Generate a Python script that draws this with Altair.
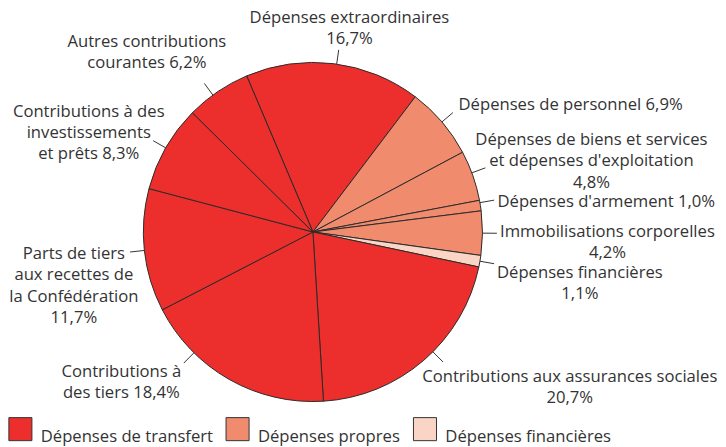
import math
import altair as alt
import pandas as pd

# ---------------- data ----------------
categories = [
    "Dépenses extraordinaires",
    "Dépenses de personnel",
    "Dépenses de biens et services et dépenses d'exploitation",
    "Dépenses d'armement",
    "Immobilisations corporelles",
    "Dépenses financières",
    "Contributions aux assurances sociales",
    "Contributions à des tiers",
    "Parts de tiers aux recettes de la Confédération",
    "Contributions à des investissements et prêts",
    "Autres contributions courantes",
]
shares = [16.7, 6.9, 4.8, 1.0, 4.2, 1.1, 20.7, 18.4, 11.7, 8.3, 6.2]
groups = [
    "Dépenses de transfert",
    "Dépenses propres",
    "Dépenses propres",
    "Dépenses propres",
    "Dépenses propres",
    "Dépenses financières",
    "Dépenses de transfert",
    "Dépenses de transfert",
    "Dépenses de transfert",
    "Dépenses de transfert",
    "Dépenses de transfert",
]
# label text lines (the percentage is appended from the data)
label_lines = [
    ["Dépenses extraordinaires", "{p}"],
    ["Dépenses de personnel {p}"],
    ["Dépenses de biens et services", "et dépenses d'exploitation", "{p}"],
    ["Dépenses d'armement {p}"],
    ["Immobilisations corporelles", "{p}"],
    ["Dépenses financières", "{p}"],
    ["Contributions aux assurances sociales", "{p}"],
    ["Contributions à", "des tiers {p}"],
    ["Parts de tiers", "aux recettes de", "la Confédération", "{p}"],
    ["Contributions à des", "investissements", "et prêts {p}"],
    ["Autres contributions", "courantes {p}"],
]
legend_domain = ["Dépenses de transfert", "Dépenses propres", "Dépenses financières"]
legend_colors = ["#EC2F2C", "#F18B6E", "#FAD4C4"]

# ---------------- layout ----------------
W, H = 716, 439
R = 171.0
CX, CY = 307.5, 224.0
START_DEG = -23.0
LINE_H = 21.3
FONT = "Open Sans"
FSIZE = 16.8
TXT = "#333333"
# leader angle adjustment (deg) and label offset from leader end (px)
leader_shift = [1, 0, -1, -1, 0, 0, -4.2, 15, 0, 0, -2]
label_dx = [10.8, 5.7, 107, 3.4, 111.5, 86.5, 127.8, -63, -56.7, -65, -58]
label_dy = [-27.3, -2.7, -22.7, 6.7, 3.3, 14, 20, 14, 7.4, -24.3, -37]
label_align = ["center", "left", "center", "left", "center", "center",
               "center", "center", "center", "center", "center"]
R_IN, R_OUT = 1.0, 185.5 / R

# ---------------- derived tables ----------------
pie = pd.DataFrame({"cat": categories, "share": shares, "group": groups,
                    "idx": list(range(len(shares)))})

total = sum(shares)
cum = 0.0
rules, texts = [], []
for i, v in enumerate(shares):
    mid = START_DEG + 360.0 * (cum + v / 2) / total + leader_shift[i]
    cum += v
    a = math.radians(mid)
    x0, y0 = R_IN * math.sin(a), R_IN * math.cos(a)
    x1, y1 = R_OUT * math.sin(a), R_OUT * math.cos(a)
    rules.append({"x": x0, "y": y0, "x2": x1, "y2": y1})
    pct = f"{v:.1f}".replace(".", ",") + "%"
    ax = x1 + label_dx[i] / R
    ay = y1 - label_dy[i] / R
    for j, line in enumerate(label_lines[i]):
        texts.append({"x": ax, "y": ay - j * LINE_H / R,
                      "text": line.format(p=pct), "align": label_align[i]})
rules = pd.DataFrame(rules)
texts = pd.DataFrame(texts)

xs = alt.Scale(domain=[-CX / R, (W - CX) / R], nice=False, zero=False)
ys = alt.Scale(domain=[-(H - CY) / R, CY / R], nice=False, zero=False)
two_pi = 2 * math.pi
s0 = math.radians(START_DEG)

arcs = alt.Chart(pie).mark_arc(outerRadius=R, stroke="#2b2b2b", strokeWidth=1).encode(
    theta=alt.Theta("share:Q", stack=True, scale=alt.Scale(range=[s0, s0 + two_pi])),
    order=alt.Order("idx:Q"),
    x=alt.X(datum=0, type="quantitative", scale=xs, axis=None),
    y=alt.Y(datum=0, type="quantitative", scale=ys, axis=None),
    color=alt.Color(
        "group:N",
        scale=alt.Scale(domain=legend_domain, range=legend_colors),
        legend=alt.Legend(
            orient="none", legendX=0, legendY=410, direction="horizontal",
            title=None, symbolType="square", symbolSize=540,
            symbolStrokeColor="#333333", symbolStrokeWidth=1, symbolOpacity=1,
            labelFont=FONT, labelFontSize=FSIZE, labelColor=TXT,
            labelOffset=8, columnPadding=10, labelBaseline="top", padding=0,
            labelLimit=400,
        ),
    ),
)

leaders = alt.Chart(rules).mark_rule(color="#333333", strokeWidth=1).encode(
    x=alt.X("x:Q", scale=xs, axis=None),
    y=alt.Y("y:Q", scale=ys, axis=None),
    x2="x2:Q",
    y2="y2:Q",
)

def text_layer(al):
    return alt.Chart(texts).transform_filter(alt.datum.align == al).mark_text(
        align=al, baseline="alphabetic", font=FONT, fontSize=FSIZE, color=TXT
    ).encode(
        x=alt.X("x:Q", scale=xs, axis=None),
        y=alt.Y("y:Q", scale=ys, axis=None),
        text="text:N",
    )

chart = alt.layer(arcs, leaders, text_layer("center"), text_layer("left")).properties(
    width=W, height=H, padding=0, autosize=alt.AutoSizeParams(type="none"),
    background="white",
).configure_view(stroke=None)

chart.save("out.html", embed_options={"renderer": "svg", "actions": False})
